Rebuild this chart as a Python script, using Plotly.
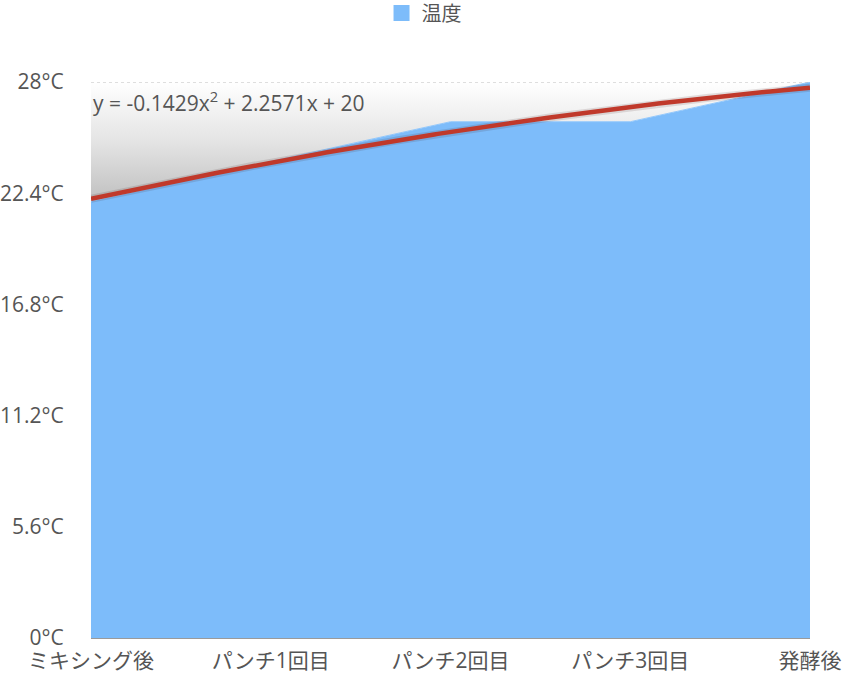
import numpy as np
import plotly.graph_objects as go

categories = ["ミキシング後", "パンチ1回目", "パンチ2回目", "パンチ3回目", "発酵後"]
temps = [22, 24, 26, 26, 28]
y_ticks = [0, 5.6, 11.2, 16.8, 22.4, 28]
series_name = "温度"

FONT = "'Open Sans', 'Noto Sans CJK JP', sans-serif"
TXT = "#555555"
AREA = "#7dbcfa"

idx = list(range(len(categories)))
y_max = y_ticks[-1]

# quadratic trendline fitted to the data (x = 1..n)
xs_fit = np.arange(1, len(temps) + 1)
c2, c1, c0 = np.polyfit(xs_fit, temps, 2)
xf = np.linspace(1, len(temps), 200)
yf = c2 * xf**2 + c1 * xf + c0

def fmt(v):
    s = f"{v:.1f}".rstrip("0").rstrip(".")
    return s + "°C"

def num(v):
    return f"{v:.4f}".rstrip("0").rstrip(".")

def sgn(v):
    return "+ " + num(v) if v >= 0 else "- " + num(-v)

eq = f"y = {c2:.4f}x<sup>2</sup> {sgn(c1)}x {sgn(round(c0, 4))}"

fig = go.Figure()
fig.add_trace(go.Scatter(
    x=idx, y=temps, name=series_name, mode="lines",
    fill="tozeroy", fillcolor=AREA,
    line=dict(color="#92c7fb", width=1),
    showlegend=False, hoverinfo="skip",
))
fig.add_trace(go.Scatter(
    x=idx, y=[y_max] * len(idx), mode="lines",
    fill="tonexty",
    fillgradient=dict(type="vertical", start=min(temps), stop=y_max,
                      colorscale=[[0, "#c0c0c0"], [0.5, "#e4e4e4"], [1, "#ffffff"]]),
    line=dict(color="#bdbdbd", width=1, dash="dot"),
    showlegend=False, hoverinfo="skip",
))
fig.add_trace(go.Scatter(
    x=xf - 1, y=yf, mode="lines",
    line=dict(color="rgba(60,20,20,0.13)", width=8),
    showlegend=False, hoverinfo="skip",
))
fig.add_trace(go.Scatter(
    x=xf - 1, y=yf, mode="lines",
    line=dict(color="#c0392b", width=4.5),
    showlegend=False, hoverinfo="skip",
))
# legend swatch (square) for the area series
fig.add_trace(go.Scatter(
    x=[None], y=[None], mode="markers", name=series_name,
    marker=dict(symbol="square", size=20, color=AREA),
    showlegend=True, hoverinfo="skip",
))

fig.add_annotation(
    xref="paper", yref="paper", x=0, y=1, xanchor="left", yanchor="top",
    xshift=0, yshift=-2, text=eq, showarrow=False,
    font=dict(family=FONT, size=21, color=TXT),
)

fig.update_layout(
    width=843, height=679,
    margin=dict(l=91, r=33, t=82, b=41, autoexpand=False),
    paper_bgcolor="white", plot_bgcolor="white",
    font=dict(family=FONT, size=21, color=TXT),
    showlegend=True,
    legend=dict(orientation="h", xref="container", yref="container",
                x=0.503, xanchor="center", y=0.981, yanchor="middle",
                font=dict(family=FONT, size=20, color=TXT), itemwidth=30),
    xaxis=dict(
        range=[0, len(idx) - 1], tickvals=idx, ticktext=categories,
        showgrid=False, zeroline=False, showline=True, linecolor="#9a9a9a", linewidth=1,
        ticks="outside", ticklen=4, tickcolor="rgba(0,0,0,0)", automargin=False,
        tickfont=dict(family=FONT, size=21, color=TXT),
    ),
    yaxis=dict(
        range=[0, y_max], tickvals=y_ticks, ticktext=[fmt(v) for v in y_ticks],
        showgrid=False, zeroline=False, showline=False,
        ticks="outside", ticklen=22, tickcolor="rgba(0,0,0,0)", automargin=False,
        tickfont=dict(family=FONT, size=21, color=TXT),
    ),
)

fig.write_html("out.html", config={"displayModeBar": False},
               post_script="document.body.style.margin='0px';")
